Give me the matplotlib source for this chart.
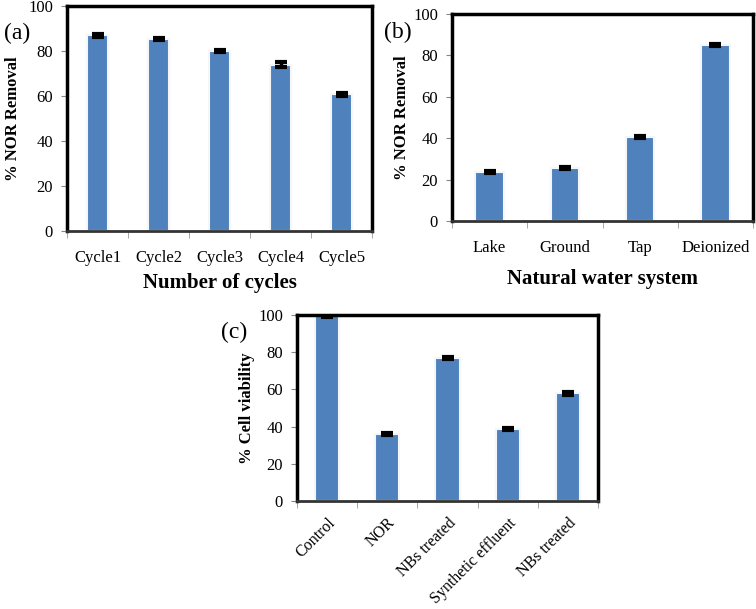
import matplotlib
matplotlib.use("Agg")
import matplotlib.pyplot as plt
import numpy as np

plt.rcParams['font.family'] = ['Liberation Serif', 'DejaVu Serif']

cycles = ["Cycle1", "Cycle2", "Cycle3", "Cycle4", "Cycle5"]
cycle_vals = [87.0, 85.5, 80.0, 74.0, 60.7]
cycle_err = [0.6, 0.5, 0.5, 0.9, 0.5]

waters = ["Lake", "Ground", "Tap", "Deionized"]
water_vals = [23.5, 25.6, 40.6, 85.1]
water_err = [0.5, 0.5, 0.5, 0.5]

cells = ["Control", "NOR", "NBs treated", "Synthetic effluent", "NBs treated"]
cell_vals = [99.5, 36.2, 76.8, 38.8, 57.8]
cell_err = [0.5, 0.5, 0.6, 0.6, 1.0]

yticks = [0, 20, 40, 60, 80, 100]

BAR = "#4F81BD"

fig = plt.figure(figsize=(7.56, 6.09), dpi=100)


def panel(rect, cats, vals, errs, width, ylabel, xlabel, tag, tagpos, ylabx,
          xlabpad=8, rot=False):
    ax = fig.add_axes(rect)
    x = np.arange(len(cats))
    ax.bar(x, vals, width=width, color=BAR, edgecolor="#f4f6fa", linewidth=1.5, zorder=2)
    ax.errorbar(x, vals, yerr=errs, fmt="none", ecolor="black", elinewidth=2.5,
                capsize=4, capthick=3, zorder=3)
    ax.set_xlim(-0.5, len(cats) - 0.5)
    ax.set_ylim(0, 100)
    ax.set_yticks(yticks)
    ax.set_yticklabels([str(v) for v in yticks], fontsize=12)
    ax.tick_params(axis="y", direction="out", length=4, color="#888888", pad=6)
    ax.set_xticks(x)
    if rot:
        ax.set_xticklabels(cats, fontsize=11.5, rotation=45, ha="right", va="top",
                           rotation_mode="anchor")
        ax.tick_params(axis="x", length=0, pad=10)
    else:
        ax.set_xticklabels(cats, fontsize=12)
        ax.tick_params(axis="x", length=0, pad=14)
    ax.set_xticks(np.arange(len(cats) + 1) - 0.5, minor=True)
    ax.tick_params(axis="x", which="minor", direction="out", length=5, color="#999999")
    for s in ["top", "right", "left"]:
        ax.spines[s].set_linewidth(2.5)
        ax.spines[s].set_color("black")
    ax.spines["bottom"].set_linewidth(2)
    ax.spines["bottom"].set_color("#333333")
    ax.set_ylabel(ylabel, fontsize=12, fontweight="bold")
    ax.yaxis.set_label_coords(ylabx, 0.5)
    if xlabel:
        ax.set_xlabel(xlabel, fontsize=15, fontweight="bold", labelpad=xlabpad)
    fig.text(tagpos[0], tagpos[1], tag, fontsize=17, ha="left", va="center")
    return ax


panel([67 / 756, 378 / 609, 305 / 756, 225 / 609], cycles, cycle_vals, cycle_err, 0.36,
      "% NOR Removal", "Number of cycles", "(a)", (4 / 756, 1 - 33 / 609), -0.152,
      xlabpad=5)
panel([452 / 756, 388 / 609, 301 / 756, 207 / 609], waters, water_vals, water_err, 0.38,
      "% NOR Removal", "Natural water system", "(b)", (384 / 756, 1 - 32 / 609), -0.138,
      xlabpad=9)
panel([297 / 756, 108 / 609, 301 / 756, 186 / 609], cells, cell_vals, cell_err, 0.4,
      "% Cell viability", None, "(c)", (221 / 756, 1 - 332 / 609), -0.14, rot=True)

fig.savefig("out.png", dpi=100)
